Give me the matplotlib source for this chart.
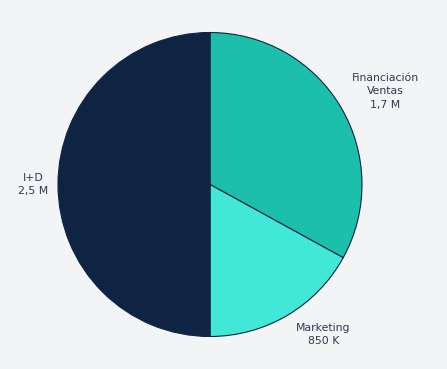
import matplotlib
matplotlib.use("Agg")
import matplotlib.pyplot as plt

labels = ["Financiación\nVentas\n1,7 M", "Marketing\n850 K", "I+D\n2,5 M"]
values = [1.65, 0.85, 2.5]
colors = ["#1bbfaa", "#41e8d8", "#0f2342"]

W, H = 447, 369
# label centres in pixel coordinates (from top-left)
label_pos = [(385.5, 91.5), (323.5, 334.5), (33, 184.5)]

fig = plt.figure(figsize=(W / 100, H / 100), dpi=100)
fig.patch.set_facecolor("#f3f4f6")
ax = fig.add_axes([0, 0, 1, 1])

cx, cy, r = 210, H - 184.5, 152
wedges, texts = ax.pie(values, labels=labels, colors=colors, startangle=90,
                       counterclock=False, center=(cx, cy), radius=r,
                       wedgeprops=dict(edgecolor="#0f2342", linewidth=0.8),
                       textprops=dict(fontsize=7.8, color="#2e3a4e",
                                      family="DejaVu Sans"),
                       frame=True)
ax.set_xlim(0, W)
ax.set_ylim(0, H)
ax.set_aspect("equal")
ax.axis("off")
for t, (px, py) in zip(texts, label_pos):
    t.set_position((px, H - py))
    t.set_ha("center")
    t.set_va("center")
    t.set_multialignment("center")
    t.set_linespacing(1.4)

fig.savefig("out.png", dpi=100, facecolor=fig.get_facecolor())
